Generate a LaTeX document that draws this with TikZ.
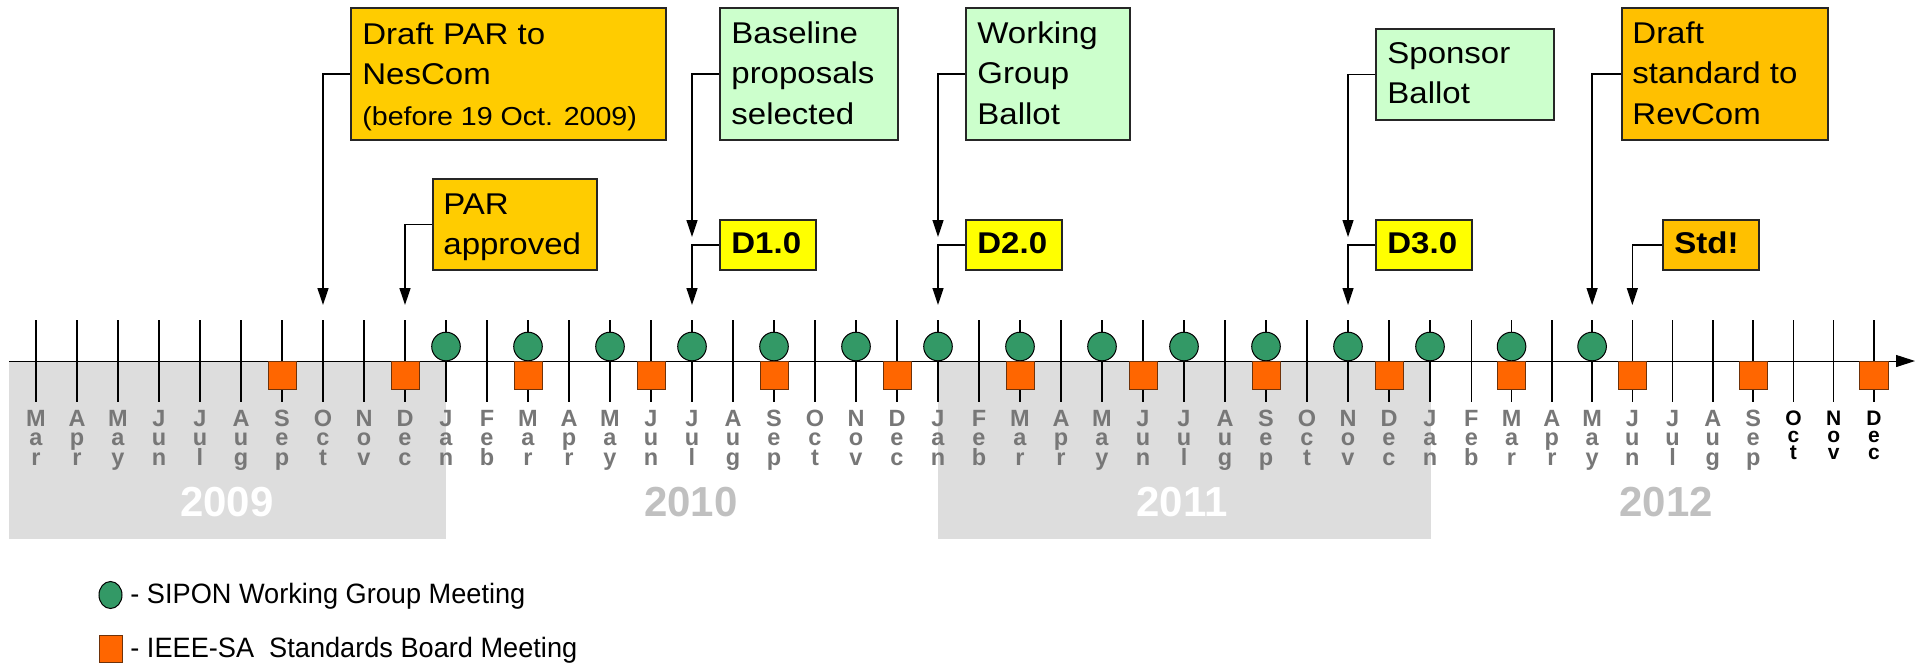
\documentclass[tikz,border=0pt]{standalone}
\usepackage{fontspec}
\setmainfont{Liberation Sans}
\newfontfamily\boxfont{Liberation Sans}[FakeStretch=1.1]
\newfontfamily\legfont{Liberation Sans}[FakeStretch=0.97]
\usetikzlibrary{arrows.meta,fit,shapes.geometric}
\definecolor{cgreen}{RGB}{51,153,102}
\definecolor{corange}{RGB}{255,102,0}
\definecolor{cborder}{RGB}{110,50,10}
\definecolor{bggray}{RGB}{221,221,221}
\definecolor{mgray}{RGB}{119,119,119}
\definecolor{ygray}{RGB}{192,192,192}
\definecolor{cgold}{RGB}{255,204,0}
\definecolor{camber}{RGB}{255,192,0}
\definecolor{cmint}{RGB}{204,255,204}
\definecolor{cyellow}{RGB}{255,255,0}
\newcommand\monfont{\bfseries\fontsize{11.75}{9.75}\selectfont}
\newcommand\monkfont{\bfseries\fontsize{10.5}{8.5}\selectfont}
\tikzset{
 tickline/.style={line width=0.75pt},
 axisline/.style={line width=0.5pt, -{Triangle[width=6pt,length=9.5pt]}},
 wgm/.style={circle, draw=black, line width=0.5pt, fill=cgreen, minimum size=14.3pt, inner sep=0pt},
 sbm/.style={rectangle, draw=cborder, line width=0.5pt, fill=corange, minimum size=14pt, inner sep=0pt},
 mon/.style={anchor=north, inner sep=0pt, align=center, text=mgray, font=\monfont},
 monk/.style={mon, text=black, font=\monkfont},
 yr/.style={anchor=base, inner sep=0pt, font=\bfseries\fontsize{21}{21}\selectfont},
 callbox/.style={draw=black!85, line width=0.6pt, inner sep=0pt, rectangle},
 btxt/.style={anchor=north west, inner sep=0pt, align=left, font=\boxfont\fontsize{15}{20.25}\selectfont},
 dtxt/.style={btxt, font=\boxfont\bfseries\fontsize{15}{20.25}\selectfont},
 conn/.style={line width=0.65pt, -{Triangle[width=5.5pt,length=8.5pt]}},
 legtxt/.style={anchor=base west, inner sep=0pt, font=\legfont\fontsize{14}{16}\selectfont},
}
\begin{document}
\lineskiplimit=-20pt
\begin{tikzpicture}[x=0.5pt,y=-0.5pt]
\useasboundingbox (0,0) rectangle (1931,665);
% year backgrounds
\fill[bggray] (9,361) rectangle (446,539);
\fill[bggray] (938,361) rectangle (1431,539);
\node[yr,text=white] (y2009) at (227,516) {2009};
\node[yr,text=ygray] (y2010) at (691,516) {2010};
\node[yr,text=white] (y2011) at (1182,516) {2011};
\node[yr,text=ygray] (y2012) at (1666,516) {2012};
% ticks
\foreach \i in {0,...,45}{
  \pgfmathsetmacro\tx{ifthenelse(\i<35,36+41*\i,1431+40.27*(\i-34))}
  \coordinate (t\i) at (\tx,361);
  \draw[tickline] (\tx,320) -- (\tx,402);
}
% axis
\coordinate (axL) at (9,361);
\coordinate (axR) at (1915,361);
\draw[axisline] (axL) -- (axR);
% working group meetings
\foreach \i in {10,12,...,38}{
  \pgfmathsetmacro\tx{ifthenelse(\i<35,36+41*\i,1431+40.27*(\i-34))}
  \node[wgm] (c\i) at (\tx,346.5) {};
}
% standards board meetings
\foreach \i in {6,9,...,45}{
  \pgfmathsetmacro\tx{ifthenelse(\i<35,36+41*\i,1431+40.27*(\i-34))}
  \node[sbm] (s\i) at (\tx,375) {};
}
% month labels (index from Mar 2009)
\foreach \i/\a/\b/\c in {0/M/a/r,1/A/p/r,2/M/a/y,3/J/u/n,4/J/u/l,5/A/u/g,6/S/e/p,7/O/c/t,8/N/o/v,9/D/e/c,
 10/J/a/n,11/F/e/b,12/M/a/r,13/A/p/r,14/M/a/y,15/J/u/n,16/J/u/l,17/A/u/g,18/S/e/p,19/O/c/t,20/N/o/v,21/D/e/c,
 22/J/a/n,23/F/e/b,24/M/a/r,25/A/p/r,26/M/a/y,27/J/u/n,28/J/u/l,29/A/u/g,30/S/e/p,31/O/c/t,32/N/o/v,33/D/e/c,
 34/J/a/n,35/F/e/b,36/M/a/r,37/A/p/r,38/M/a/y,39/J/u/n,40/J/u/l,41/A/u/g,42/S/e/p}{
  \pgfmathsetmacro\tx{ifthenelse(\i<35,36+41*\i,1431+40.27*(\i-34))}
  \node[mon] (m\i) at (\tx,408) {\rule{0pt}{9pt}\a\\\b\\\c};
}
\foreach \i/\a/\b/\c in {43/O/c/t,44/N/o/v,45/D/e/c}{
  \pgfmathsetmacro\tx{1431+40.27*(\i-34)}
  \node[monk] (m\i) at (\tx,407) {\rule{0pt}{9pt}\a\\\b\\\c};
}
% callout boxes
\node[callbox, fill=cgold, fit={(351,8) (666,140)}] (draftpar) {};
\node[btxt] (draftparT) at (362,20) {\rule{0pt}{12pt}Draft PAR to\\NesCom\\{\fontsize{13}{20.25}\selectfont(before 19 Oct. 2009)}};
\node[callbox, fill=cgold, fit={(433,179) (597,270)}] (parapp) {};
\node[btxt] (parappT) at (443,190) {\rule{0pt}{12pt}PAR\\approved};
\node[callbox, fill=cmint, fit={(720,8) (898,140)}] (baseline) {};
\node[btxt] (baselineT) at (731,19) {\rule{0pt}{12pt}Baseline\\proposals\\selected};
\node[callbox, fill=cmint, fit={(966,8) (1130,140)}] (wgb) {};
\node[btxt] (wgbT) at (977,19) {\rule{0pt}{12pt}Working\\Group\\Ballot};
\node[callbox, fill=cmint, fit={(1376,29) (1554,120)}] (spb) {};
\node[btxt] (spbT) at (1387,39) {\rule{0pt}{12pt}Sponsor\\Ballot};
\node[callbox, fill=camber, fit={(1622,8) (1828,140)}] (dstd) {};
\node[btxt] (dstdT) at (1632,19) {\rule{0pt}{12pt}Draft\\standard to\\RevCom};
\node[callbox, fill=cyellow, fit={(720,220) (816,270)}] (d1) {};
\node[dtxt] (d1T) at (731,229) {\rule{0pt}{12pt}D1.0};
\node[callbox, fill=cyellow, fit={(966,220) (1062,270)}] (d2) {};
\node[dtxt] (d2T) at (977,229) {\rule{0pt}{12pt}D2.0};
\node[callbox, fill=cyellow, fit={(1376,220) (1472,270)}] (d3) {};
\node[dtxt] (d3T) at (1387,229) {\rule{0pt}{12pt}D3.0};
\node[callbox, fill=camber, fit={(1663,220) (1759,270)}] (std) {};
\node[dtxt] (stdT) at (1674,229) {\rule{0pt}{12pt}Std!};
% arrow targets
\coordinate (a7) at (t7 |- 0,305);
\coordinate (a9) at (t9 |- 0,305);
\coordinate (u16) at (t16 |- 0,237);
\coordinate (a16) at (t16 |- 0,305);
\coordinate (u22) at (t22 |- 0,237);
\coordinate (a22) at (t22 |- 0,305);
\coordinate (u32) at (t32 |- 0,237);
\coordinate (a32) at (t32 |- 0,305);
\coordinate (a38) at (t38 |- 0,305);
\coordinate (a39) at (t39 |- 0,305);
% connectors
\draw[conn] (draftpar.west) -| (a7);
\draw[conn] (parapp.west) -| (a9);
\draw[conn] (baseline.west) -| (u16);
\draw[conn] (d1.west) -| (a16);
\draw[conn] (wgb.west) -| (u22);
\draw[conn] (d2.west) -| (a22);
\draw[conn] (spb.west) -| (u32);
\draw[conn] (d3.west) -| (a32);
\draw[conn] (dstd.west) -| (a38);
\draw[conn] (std.west) -| (a39);
% legend
\node[ellipse, draw=black, line width=0.5pt, fill=cgreen, minimum width=11.5pt, minimum height=13.5pt, inner sep=0pt] (lgc) at (110.5,595) {};
\node[rectangle, draw=cborder, line width=0.5pt, fill=corange, minimum width=11.5pt, minimum height=13.5pt, inner sep=0pt] (lgs) at (110.5,648.5) {};
\node[legtxt] (lgcT) at (130,603) {- SIPON Working Group Meeting};
\node[legtxt] (lgsT) at (130,657) {- IEEE-SA\ \ Standards Board Meeting};
\end{tikzpicture}
\end{document}
